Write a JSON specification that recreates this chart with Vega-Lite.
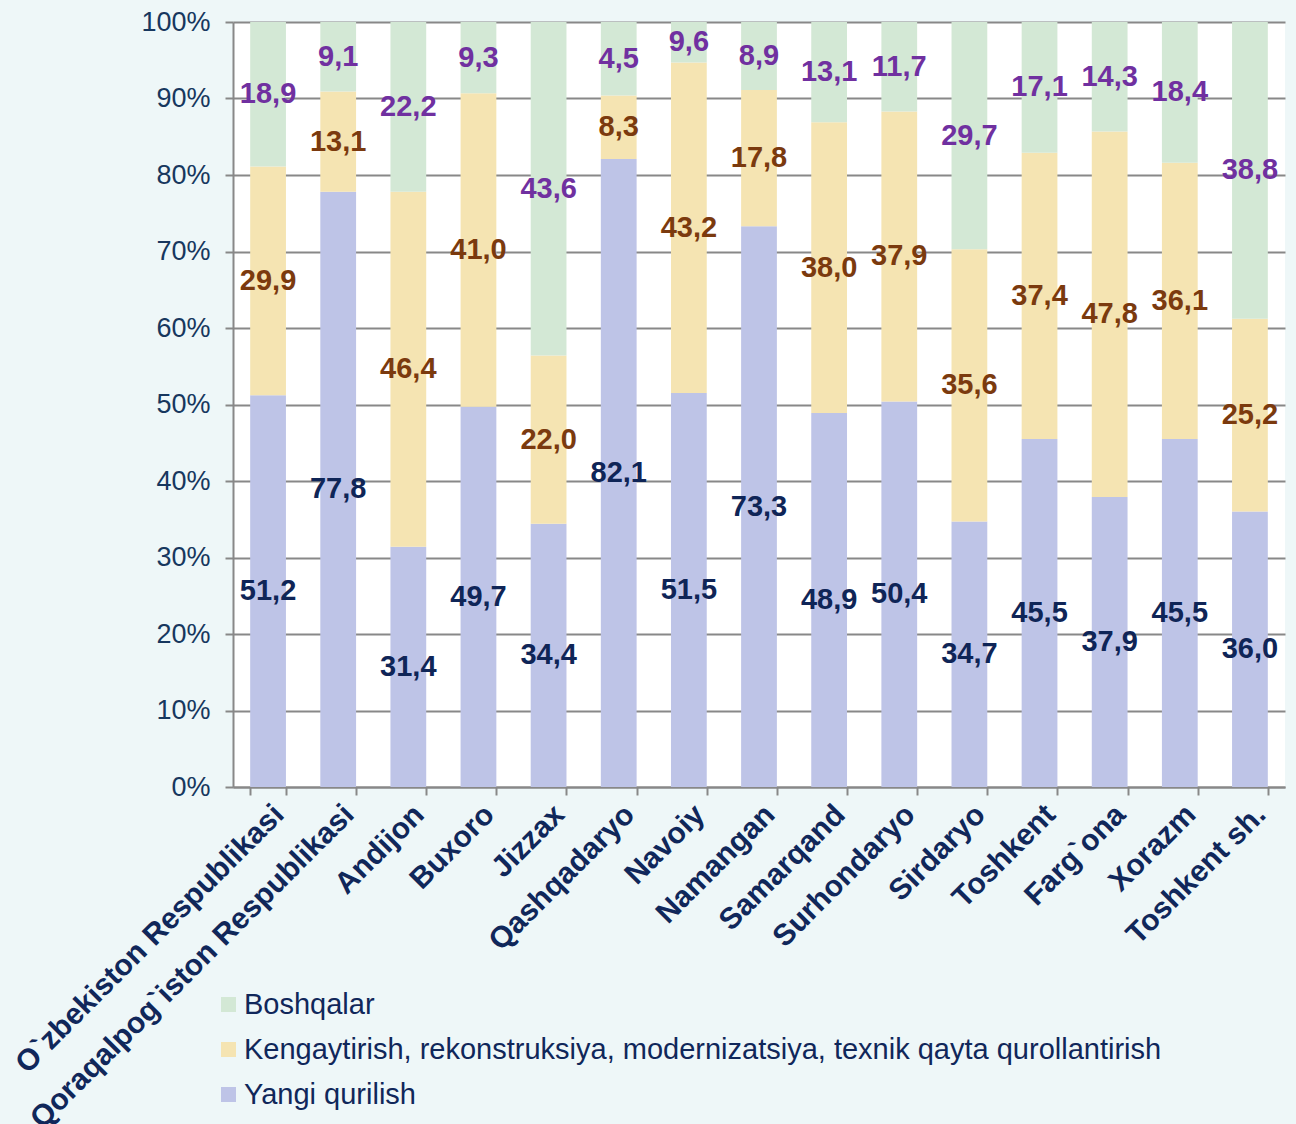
{
  "$schema": "https://vega.github.io/schema/vega-lite/v6.json",
  "width": 1052,
  "height": 765,
  "autosize": {"type": "none"},
  "padding": {"left": 233, "top": 22, "right": 11, "bottom": 337},
  "background": "#EEF7F8",
  "config": {
    "font": "Liberation Sans",
    "view": {"stroke": null, "fill": "white"}
  },
  "data": {
    "values": [
      {"region": "O`zbekiston Respublikasi", "type": "Yangi qurilish", "ord": 1, "value": 51.2, "label": "51,2"},
      {"region": "O`zbekiston Respublikasi", "type": "Kengaytirish, rekonstruksiya, modernizatsiya, texnik qayta qurollantirish", "ord": 2, "value": 29.9, "label": "29,9"},
      {"region": "O`zbekiston Respublikasi", "type": "Boshqalar", "ord": 3, "value": 18.9, "label": "18,9"},
      {"region": "Qoraqalpog`iston Respublikasi", "type": "Yangi qurilish", "ord": 1, "value": 77.8, "label": "77,8"},
      {"region": "Qoraqalpog`iston Respublikasi", "type": "Kengaytirish, rekonstruksiya, modernizatsiya, texnik qayta qurollantirish", "ord": 2, "value": 13.1, "label": "13,1"},
      {"region": "Qoraqalpog`iston Respublikasi", "type": "Boshqalar", "ord": 3, "value": 9.1, "label": "9,1"},
      {"region": "Andijon", "type": "Yangi qurilish", "ord": 1, "value": 31.4, "label": "31,4"},
      {"region": "Andijon", "type": "Kengaytirish, rekonstruksiya, modernizatsiya, texnik qayta qurollantirish", "ord": 2, "value": 46.4, "label": "46,4"},
      {"region": "Andijon", "type": "Boshqalar", "ord": 3, "value": 22.2, "label": "22,2"},
      {"region": "Buxoro", "type": "Yangi qurilish", "ord": 1, "value": 49.7, "label": "49,7"},
      {"region": "Buxoro", "type": "Kengaytirish, rekonstruksiya, modernizatsiya, texnik qayta qurollantirish", "ord": 2, "value": 41.0, "label": "41,0"},
      {"region": "Buxoro", "type": "Boshqalar", "ord": 3, "value": 9.3, "label": "9,3"},
      {"region": "Jizzax", "type": "Yangi qurilish", "ord": 1, "value": 34.4, "label": "34,4"},
      {"region": "Jizzax", "type": "Kengaytirish, rekonstruksiya, modernizatsiya, texnik qayta qurollantirish", "ord": 2, "value": 22.0, "label": "22,0"},
      {"region": "Jizzax", "type": "Boshqalar", "ord": 3, "value": 43.6, "label": "43,6"},
      {"region": "Qashqadaryo", "type": "Yangi qurilish", "ord": 1, "value": 82.1, "label": "82,1"},
      {"region": "Qashqadaryo", "type": "Kengaytirish, rekonstruksiya, modernizatsiya, texnik qayta qurollantirish", "ord": 2, "value": 8.3, "label": "8,3"},
      {"region": "Qashqadaryo", "type": "Boshqalar", "ord": 3, "value": 9.6, "label": "4,5"},
      {"region": "Navoiy", "type": "Yangi qurilish", "ord": 1, "value": 51.5, "label": "51,5"},
      {"region": "Navoiy", "type": "Kengaytirish, rekonstruksiya, modernizatsiya, texnik qayta qurollantirish", "ord": 2, "value": 43.2, "label": "43,2"},
      {"region": "Navoiy", "type": "Boshqalar", "ord": 3, "value": 5.3, "label": "9,6"},
      {"region": "Namangan", "type": "Yangi qurilish", "ord": 1, "value": 73.3, "label": "73,3"},
      {"region": "Namangan", "type": "Kengaytirish, rekonstruksiya, modernizatsiya, texnik qayta qurollantirish", "ord": 2, "value": 17.8, "label": "17,8"},
      {"region": "Namangan", "type": "Boshqalar", "ord": 3, "value": 8.9, "label": "8,9"},
      {"region": "Samarqand", "type": "Yangi qurilish", "ord": 1, "value": 48.9, "label": "48,9"},
      {"region": "Samarqand", "type": "Kengaytirish, rekonstruksiya, modernizatsiya, texnik qayta qurollantirish", "ord": 2, "value": 38.0, "label": "38,0"},
      {"region": "Samarqand", "type": "Boshqalar", "ord": 3, "value": 13.1, "label": "13,1"},
      {"region": "Surhondaryo", "type": "Yangi qurilish", "ord": 1, "value": 50.4, "label": "50,4"},
      {"region": "Surhondaryo", "type": "Kengaytirish, rekonstruksiya, modernizatsiya, texnik qayta qurollantirish", "ord": 2, "value": 37.9, "label": "37,9"},
      {"region": "Surhondaryo", "type": "Boshqalar", "ord": 3, "value": 11.7, "label": "11,7"},
      {"region": "Sirdaryo", "type": "Yangi qurilish", "ord": 1, "value": 34.7, "label": "34,7"},
      {"region": "Sirdaryo", "type": "Kengaytirish, rekonstruksiya, modernizatsiya, texnik qayta qurollantirish", "ord": 2, "value": 35.6, "label": "35,6"},
      {"region": "Sirdaryo", "type": "Boshqalar", "ord": 3, "value": 29.7, "label": "29,7"},
      {"region": "Toshkent", "type": "Yangi qurilish", "ord": 1, "value": 45.5, "label": "45,5"},
      {"region": "Toshkent", "type": "Kengaytirish, rekonstruksiya, modernizatsiya, texnik qayta qurollantirish", "ord": 2, "value": 37.4, "label": "37,4"},
      {"region": "Toshkent", "type": "Boshqalar", "ord": 3, "value": 17.1, "label": "17,1"},
      {"region": "Farg`ona", "type": "Yangi qurilish", "ord": 1, "value": 37.9, "label": "37,9"},
      {"region": "Farg`ona", "type": "Kengaytirish, rekonstruksiya, modernizatsiya, texnik qayta qurollantirish", "ord": 2, "value": 47.8, "label": "47,8"},
      {"region": "Farg`ona", "type": "Boshqalar", "ord": 3, "value": 14.3, "label": "14,3"},
      {"region": "Xorazm", "type": "Yangi qurilish", "ord": 1, "value": 45.5, "label": "45,5"},
      {"region": "Xorazm", "type": "Kengaytirish, rekonstruksiya, modernizatsiya, texnik qayta qurollantirish", "ord": 2, "value": 36.1, "label": "36,1"},
      {"region": "Xorazm", "type": "Boshqalar", "ord": 3, "value": 18.4, "label": "18,4"},
      {"region": "Toshkent sh.", "type": "Yangi qurilish", "ord": 1, "value": 36.0, "label": "36,0"},
      {"region": "Toshkent sh.", "type": "Kengaytirish, rekonstruksiya, modernizatsiya, texnik qayta qurollantirish", "ord": 2, "value": 25.2, "label": "25,2"},
      {"region": "Toshkent sh.", "type": "Boshqalar", "ord": 3, "value": 38.8, "label": "38,8"}
    ]
  },
  "encoding": {
    "x": {
      "field": "region",
      "type": "nominal",
      "sort": null,
      "scale": {"paddingInner": 0.49, "paddingOuter": 0.245},
      "axis": {
        "title": null,
        "labelAngle": -45,
        "labelFont": "Liberation Sans",
        "labelFontSize": 30,
        "labelFontWeight": "bold",
        "labelColor": "#10275A",
        "labelPadding": 4,
        "labelDx": -13,
        "domainColor": "#888888",
        "domainWidth": 2,
        "tickColor": "#888888",
        "tickWidth": 2,
        "tickSize": 8,
        "tickBand": "extent",
        "grid": false,
        "labelLimit": 600
      }
    }
  },
  "layer": [
    {
      "mark": {"type": "bar"},
      "encoding": {
        "y": {
          "field": "value",
          "type": "quantitative",
          "stack": "normalize",
          "scale": {"domain": [0, 1]},
          "axis": {
            "title": null,
            "format": ".0%",
            "tickCount": 10,
            "labelFontSize": 27,
            "labelColor": "#17375E",
            "labelPadding": 15,
            "domainColor": "#888888",
            "domainWidth": 2,
            "tickColor": "#888888",
            "tickWidth": 2,
            "tickSize": 8,
            "gridColor": "#888888",
            "gridWidth": 2
          }
        },
        "order": {"field": "ord", "type": "quantitative"},
        "color": {
          "field": "type",
          "type": "nominal",
          "scale": {
            "domain": ["Boshqalar", "Kengaytirish, rekonstruksiya, modernizatsiya, texnik qayta qurollantirish", "Yangi qurilish"],
            "range": ["#D3E8D5", "#F5E4B2", "#BEC4E7"]
          },
          "legend": {
            "title": null,
            "orient": "none",
            "legendX": -19,
            "legendY": 968,
            "symbolType": "square",
            "symbolSize": 225,
            "symbolStrokeWidth": 0,
            "labelFontSize": 29,
            "labelColor": "#10275A",
            "labelLimit": 1100,
            "rowPadding": 15,
            "labelOffset": 1
          }
        }
      }
    },
    {
      "mark": {"type": "text", "fontSize": 29, "fontWeight": "bold", "font": "Liberation Sans"},
      "encoding": {
        "y": {
          "field": "value",
          "type": "quantitative",
          "stack": "normalize",
          "bandPosition": 0.5
        },
        "order": {"field": "ord", "type": "quantitative"},
        "text": {"field": "label"},
        "color": {
          "field": "type",
          "type": "nominal",
          "scale": {
            "domain": ["Boshqalar", "Kengaytirish, rekonstruksiya, modernizatsiya, texnik qayta qurollantirish", "Yangi qurilish"],
            "range": ["#7030A0", "#7B3A0E", "#0F2557"]
          },
          "legend": null
        }
      }
    }
  ],
  "resolve": {"scale": {"color": "independent"}}
}
